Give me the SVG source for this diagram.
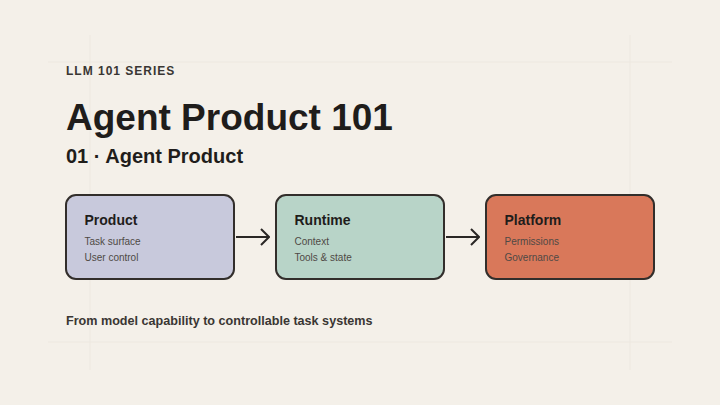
<svg xmlns="http://www.w3.org/2000/svg" width="720" height="405" viewBox="0 0 720 405">
<defs>
<style>
.t{font-family:"Liberation Sans",Arial,sans-serif;}
.box{stroke:#322e2b;stroke-width:2;}
.h{font-size:14px;font-weight:bold;fill:#1f1d1b;}
.s{font-size:10px;fill:#4f4945;}
.grid{stroke:#ede8e0;stroke-width:1;fill:none;}
.conn{stroke:#2a2725;stroke-width:2;fill:none;}
</style>
<marker id="ah" markerWidth="10" markerHeight="20" viewBox="0 0 10 20" refX="9" refY="10" orient="auto" markerUnits="userSpaceOnUse">
<path d="M1,2 L9,10 L1,18" fill="none" stroke="#2a2725" stroke-width="2"/>
</marker>
</defs>
<rect width="720" height="405" fill="#f4f0e9"/>
<g id="grid">
<line class="grid" x1="48" y1="62" x2="672" y2="62"/>
<line class="grid" x1="48" y1="342" x2="672" y2="342"/>
<line class="grid" x1="90" y1="35" x2="90" y2="370"/>
<line class="grid" x1="630" y1="35" x2="630" y2="370"/>
</g>
<g id="header" class="t">
<text x="66" y="75" font-size="12" font-weight="bold" letter-spacing="1" fill="#3a3633">LLM 101 SERIES</text>
<text x="66" y="130" font-size="37" font-weight="bold" fill="#1f1d1b">Agent Product 101</text>
<text x="66" y="163" font-size="20" font-weight="bold" fill="#1f1d1b">01 · Agent Product</text>
</g>
<g id="node-product" class="t">
<rect class="box" x="66" y="195" width="168" height="84" rx="10" fill="#c8c9dc"/>
<text class="h" x="84.5" y="225">Product</text>
<text class="s" x="84.5" y="244.5">Task surface</text>
<text class="s" x="84.5" y="261">User control</text>
</g>
<g id="node-runtime" class="t">
<rect class="box" x="276" y="195" width="168" height="84" rx="10" fill="#b8d4c8"/>
<text class="h" x="294.5" y="225">Runtime</text>
<text class="s" x="294.5" y="244.5">Context</text>
<text class="s" x="294.5" y="261">Tools &amp; state</text>
</g>
<g id="node-platform" class="t">
<rect class="box" x="486" y="195" width="168" height="84" rx="10" fill="#d9785a"/>
<text class="h" x="504.5" y="225">Platform</text>
<text class="s" x="504.5" y="244.5" fill="#4a2e25">Permissions</text>
<text class="s" x="504.5" y="261" fill="#4a2e25">Governance</text>
</g>
<g id="connectors">
<line class="conn" x1="236" y1="237" x2="269" y2="237" marker-end="url(#ah)"/>
<line class="conn" x1="446" y1="237" x2="479" y2="237" marker-end="url(#ah)"/>
</g>
<g id="footer" class="t">
<text x="66" y="325" font-size="12.6" font-weight="bold" fill="#3a3633">From model capability to controllable task systems</text>
</g>
</svg>
